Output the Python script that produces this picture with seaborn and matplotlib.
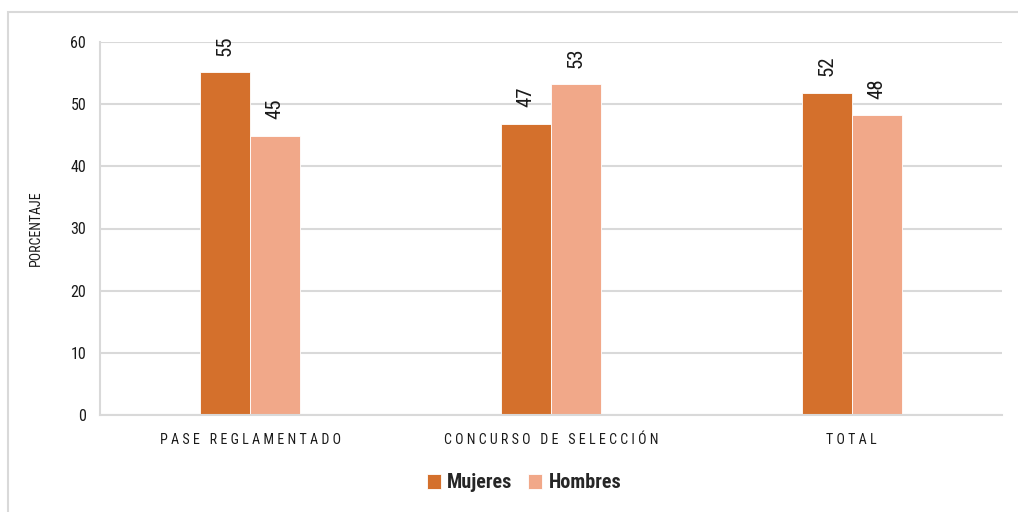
import matplotlib
matplotlib.use("Agg")
import matplotlib.pyplot as plt
from matplotlib import font_manager
from matplotlib.patches import Rectangle
import seaborn as sns
import pandas as pd

# Data
categories = ["PASE REGLAMENTADO", "CONCURSO DE SELECCIÓN", "TOTAL"]
mujeres = [55.1, 46.8, 51.8]
hombres = [44.9, 53.2, 48.2]
series_names = ["Mujeres", "Hombres"]
y_ticks = [0, 10, 20, 30, 40, 50, 60]
y_label = "PORCENTAJE"

colors = {"Mujeres": "#D4702C", "Hombres": "#F1A889"}
grid_color = "#D9D9D9"
text_color = "#1A1A1A"

# Pick a narrow sans family if one is installed
installed = {f.name for f in font_manager.fontManager.ttflist}
family = "Liberation Sans"
for cand in ["Liberation Sans Narrow", "Roboto Condensed", "Open Sans Condensed",
             "Noto Sans Condensed", "DejaVu Sans Condensed", "Liberation Sans"]:
    if cand in installed:
        family = cand
        break

sns.set_theme(style="white")
plt.rcParams["font.family"] = [family, "DejaVu Sans"]

df = pd.DataFrame({
    "categoria": categories * 2,
    "serie": [series_names[0]] * 3 + [series_names[1]] * 3,
    "valor": mujeres + hombres,
})

W, H = 1018, 512
fig = plt.figure(figsize=(W / 100, H / 100), dpi=100)
ax = fig.add_axes([100 / W, 1 - 415 / H, (1002 - 100) / W, (415 - 42) / H])

sns.barplot(data=df, x="categoria", y="valor", hue="serie", order=categories,
            hue_order=series_names, palette=colors, width=0.333, gap=0,
            saturation=1, ax=ax, legend=True, edgecolor="white", linewidth=0.6)

ax.set_xlim(-0.5, 2.5)
ax.set_ylim(0, 60)
ax.set_yticks(y_ticks)
ax.yaxis.grid(True, color=grid_color, linewidth=1.5)
ax.set_axisbelow(True)
for side in ["top", "right"]:
    ax.spines[side].set_visible(False)
for side in ["left", "bottom"]:
    ax.spines[side].set_color(grid_color)
    ax.spines[side].set_linewidth(1.5)
ax.tick_params(axis="both", length=0, colors=text_color)
ax.tick_params(axis="y", labelsize=11.5, pad=10)


def spaced(text):
    return "   ".join(" ".join(word) for word in text.split(" "))


ax.set_xticks(range(len(categories)))
ax.set_xticklabels([spaced(c) for c in categories], fontsize=10.1, color=text_color)
ax.tick_params(axis="x", pad=13)
ax.set_xlabel("")
ax.set_ylabel(y_label, fontsize=10, color=text_color, labelpad=20)

for cont in ax.containers:
    ax.bar_label(cont, fmt="%.0f", rotation=90, padding=12, fontsize=15,
                 color=text_color)

handles, labels = ax.get_legend_handles_labels()
ax.legend(handles, labels, loc="center", bbox_to_anchor=(524 / W, 1 - 483 / H),
          bbox_transform=fig.transFigure, ncol=2, frameon=False,
          prop={"weight": "bold", "size": 14.5}, handlelength=0.7, handleheight=0.7,
          handletextpad=0.3, columnspacing=0.8)

# Outer frame
fig.patches.append(Rectangle((8 / W, -0.1), 1.2, 1 - 12 / H + 0.1,
                             transform=fig.transFigure, fill=False,
                             edgecolor=grid_color, linewidth=1.5, zorder=0))

fig.savefig("out.png", dpi=100)
